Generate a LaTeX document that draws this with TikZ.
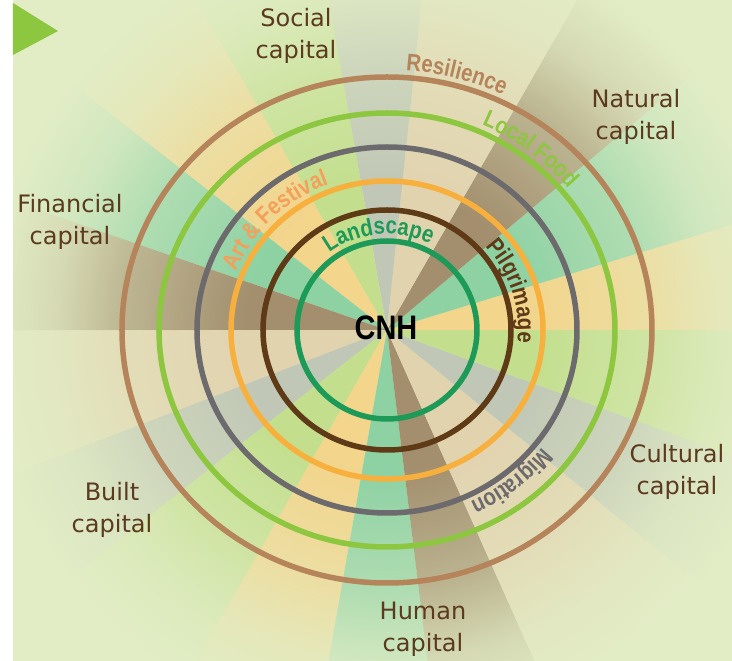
\documentclass[tikz,border=0pt]{standalone}
\usepackage{fontspec}
\setmainfont{DejaVu Sans}
\newfontfamily\ringfamily[FakeStretch=0.85]{Liberation Sans}
\usetikzlibrary{decorations.text,fadings}

\definecolor{bggreen}{HTML}{E2EDC6}
\definecolor{arrowgreen}{HTML}{8DC63F}
\definecolor{labelbrown}{HTML}{5B3A1E}
\definecolor{rayyellow}{HTML}{F3D58C}
\definecolor{rayteal}{HTML}{8ED2A4}
\definecolor{raybrown}{HTML}{A38F6E}
\definecolor{raytan}{HTML}{E2D3AF}
\definecolor{raygrey}{HTML}{C0C7B6}
\definecolor{raylime}{HTML}{C3DF8D}
\definecolor{ringtan}{HTML}{B5845A}
\definecolor{ringlime}{HTML}{8DC63F}
\definecolor{ringgrey}{HTML}{6D6A6E}
\definecolor{ringorange}{HTML}{F7B03E}
\definecolor{festorange}{HTML}{F5A05A}
\definecolor{ringbrown}{HTML}{5E3A17}
\definecolor{ringgreen}{HTML}{1E9A58}

\newcommand\ringfont{\ringfamily\bfseries\fontsize{24}{26}\selectfont}
\newcommand\capfont{\fontsize{24}{32}\selectfont}

\pgfdeclareradialshading{rayshade}{\pgfpointorigin}{color(0bp)=(pgftransparent!0); color(14bp)=(pgftransparent!0); color(26bp)=(pgftransparent!40); color(33bp)=(pgftransparent!80); color(40bp)=(pgftransparent!100); color(50bp)=(pgftransparent!100)}
\pgfdeclarefading{rayfade}{\pgfuseshading{rayshade}}

\tikzset{
  ray/.style={path fading=rayfade, fit fading=false, fading transform={scale=10}},
  ring/.style={draw=#1, line width=5.5pt},
  caplabel/.style={text=labelbrown, align=center, font=\capfont, inner sep=0pt},
  ringtext/.style 2 args={decorate, decoration={text along path, text align=center,
    text color=#1, text={|\ringfont|#2}}}
}

\begin{document}
\begin{tikzpicture}[x=1pt,y=1pt]
\useasboundingbox (-387,-331) rectangle (345,330);
\fill[white] (-387,-331) rectangle (-374,330);
\fill[bggreen] (-374,-331) rectangle (345,330);

% rays
\begin{scope}
\clip (-374,-331) rectangle (345,330);
\foreach \a/\b/\c in {0/17/rayyellow,17/40/rayteal,40/60/raybrown,60/84/raytan,
  84/100/raygrey,100/120/raylime,120/142/rayyellow,142/161/rayteal,161/180/raybrown,
  180/201/raytan,201/218/raygrey,218/240/raylime,240/260/rayyellow,260/277/rayteal,
  277/294/raybrown,294/321/raytan,321/340/raygrey,340/360/raylime}
  \fill[\c, ray] (0,0) -- (\a:620) arc[start angle=\a, end angle=\b, radius=620] -- cycle;
\end{scope}

\fill[arrowgreen] (-374,327) -- (-374,275) -- (-329,299) -- cycle;

% rings
\draw[ring=ringtan] (0,0) ellipse[x radius=265, y radius=253];
\draw[ring=ringlime] (0,0) ellipse[x radius=228, y radius=217];
\draw[ring=ringgrey] (0,0) ellipse[x radius=190, y radius=183];
\draw[ring=ringorange] (0,0) ellipse[x radius=156, y radius=149];
\draw[ring=ringbrown] (0,0) ellipse[x radius=124, y radius=120];
\draw[ring=ringgreen] (0,0) ellipse[x radius=90, y radius=89];

% ring labels
\path[ringtext={ringtan}{Resilience}] (125:272 and 260) arc[start angle=125, end angle=25, x radius=272, y radius=260];
\path[ringtext={ringlime}{Local Food}] (102:235 and 224) arc[start angle=102, end angle=2, x radius=235, y radius=224];
\path[ringtext={ringgrey}{Migration}] (-1:197 and 190) arc[start angle=-1, end angle=-101, x radius=197, y radius=190];
\path[ringtext={festorange}{Art {\&} Festival}] (185:163 and 156) arc[start angle=185, end angle=85, x radius=163, y radius=156];
\path[ringtext={ringbrown}{Pilgrimage}] (67.5:131 and 127) arc[start angle=67.5, end angle=-32.5, x radius=131, y radius=127];
\path[ringtext={ringgreen}{Landscape}] (145:97 and 96) arc[start angle=145, end angle=45, x radius=97, y radius=96];

\node[font=\ringfamily\bfseries\fontsize{34}{34}\selectfont] (cnh) at (-1,2) {CNH};

% capitals
\node[caplabel] (social) at (-91,294) {Social\\capital};
\node[caplabel] (natural) at (249,213) {Natural\\capital};
\node[caplabel] (financial) at (-317,108) {Financial\\capital};
\node[caplabel] (built) at (-275,-180) {Built\\capital};
\node[caplabel] (cultural) at (290,-142) {Cultural\\capital};
\node[caplabel] (human) at (36,-299) {Human\\capital};
\end{tikzpicture}
\end{document}
